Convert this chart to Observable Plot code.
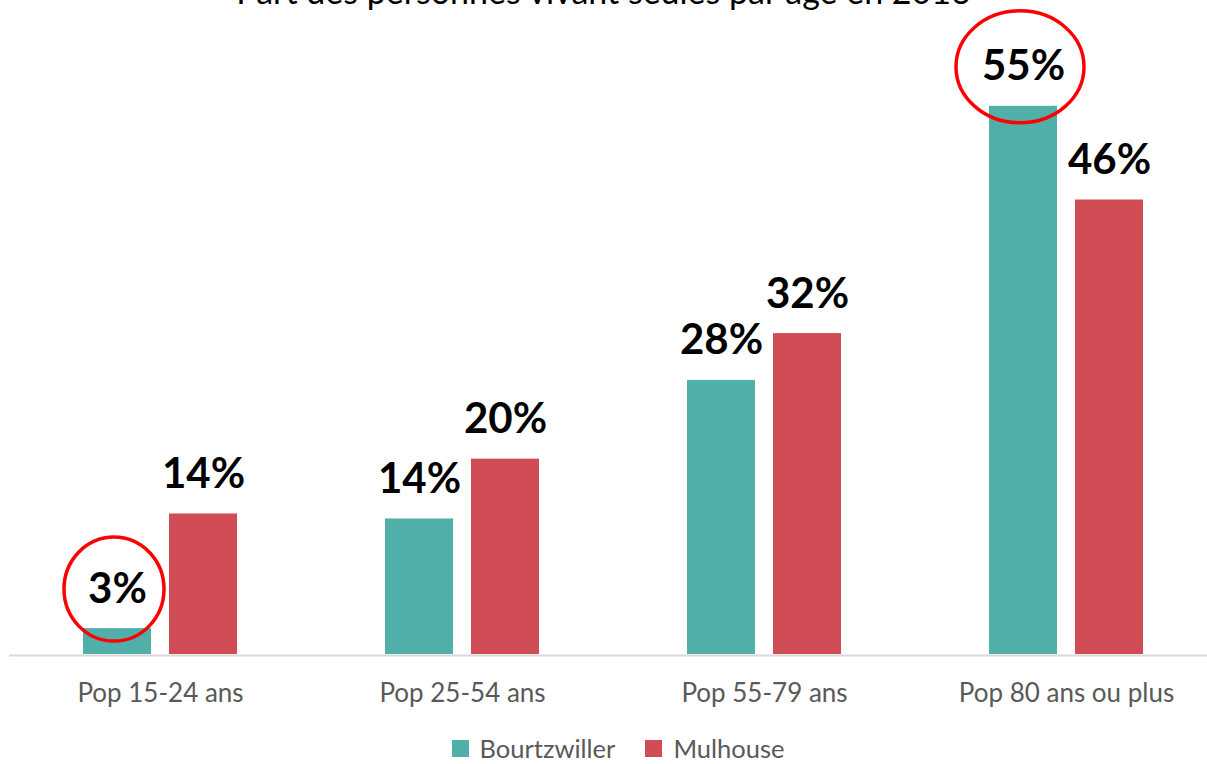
<!DOCTYPE html>
<html>
<head>
<meta charset="utf-8">
<script src="https://cdn.jsdelivr.net/npm/d3@7"></script>
<script src="https://cdn.jsdelivr.net/npm/@observablehq/plot@0.6"></script>
<style>
  html, body { margin: 0; padding: 0; background: #fff; }
  body { width: 1207px; height: 764px; overflow: hidden; position: relative; font-family: Lato, "Noto Sans", sans-serif; }
  #title { position: absolute; left: 0; width: 1207px; top: -29px; text-align: center; font-size: 34px; line-height: 40px; color: #000; white-space: nowrap; }
  #chart { position: absolute; left: 0; top: 0; width: 1217px; }
  #chart svg { max-width: none !important; }
  #legend { position: absolute; left: 29px; width: 1178px; top: 736px; height: 24px; line-height: 24px; display: flex; justify-content: center; align-items: center; font-size: 25.5px; color: #595959; }
  #legend .item { display: flex; align-items: center; height: 24px; }
  #legend .sw { width: 17px; height: 17px; margin-right: 11px; }
</style>
</head>
<body>
<div id="title"></div>
<div id="chart"></div>
<div id="legend"></div>
<script>
const title = "Part des personnes vivant seules par âge en 2016";
const categories = ["Pop 15-24 ans", "Pop 25-54 ans", "Pop 55-79 ans", "Pop 80 ans ou plus"];
const series = ["Bourtzwiller", "Mulhouse"];
const bourtzwiller = [2.6, 13.6, 27.5, 55.0];
const mulhouse = [14.1, 19.6, 32.2, 45.6];
const highlighted = [["Pop 15-24 ans", "Bourtzwiller"], ["Pop 80 ans ou plus", "Bourtzwiller"]];
const colors = ["#51AFAA", "#D04D56"];

const bData = categories.map((c, i) => ({cat: c, series: series[0], value: bourtzwiller[i]}));
const mData = categories.map((c, i) => ({cat: c, series: series[1], value: mulhouse[i]}));
const fmt = d => Math.round(d.value) + "%";

document.getElementById("title").textContent = title;

const labelStyle = {fontSize: 42, fontWeight: 700, fill: "#000", lineAnchor: "bottom", textAnchor: "middle"};

const plot = Plot.plot({
  width: 1217,
  height: 730,
  marginLeft: 9,
  marginRight: 0,
  marginTop: 56,
  marginBottom: 76,
  style: {fontFamily: "Lato, 'Noto Sans', sans-serif", fontSize: "26px", color: "#595959", background: "transparent", maxWidth: "none"},
  x: {domain: categories, paddingInner: 0.49, paddingOuter: 0.245, label: null, tickSize: 0, tickPadding: 29},
  y: {domain: [0, 60], axis: null},
  color: {domain: series, range: colors},
  marks: [
    Plot.barY(bData, {x: "cat", y: "value", fill: "series", insetRight: 86}),
    Plot.barY(mData, {x: "cat", y: "value", fill: "series", insetLeft: 86}),
    Plot.ruleY([0], {stroke: "#d9d9d9", strokeWidth: 2, dy: 1}),
    Plot.text(bData, {x: "cat", y: "value", text: fmt, dx: -43, dy: -26, ...labelStyle}),
    Plot.text(mData, {x: "cat", y: "value", text: fmt, dx: 43, dy: -26, ...labelStyle})
  ]
});
document.getElementById("chart").appendChild(plot);

// red highlight ellipses around selected labels, positioned through the plot's scales
const xs = plot.scale("x"), ys = plot.scale("y");
const ellipseSize = [[50, 52], [64, 56]];
const svg = d3.select(plot);
highlighted.forEach(([cat, s], k) => {
  const arr = s === series[0] ? bourtzwiller : mulhouse;
  const v = arr[categories.indexOf(cat)];
  const bw = xs.bandwidth;
  const cx = xs.apply(cat) + (s === series[0] ? 34 : bw - 34) - 3;
  const cy = ys.apply(v) - 39;
  svg.append("ellipse")
    .attr("cx", cx).attr("cy", cy)
    .attr("rx", ellipseSize[k][0]).attr("ry", ellipseSize[k][1])
    .attr("fill", "none").attr("stroke", "#FF0000").attr("stroke-width", 3.5);
});

// legend from the color scale
const cs = plot.scale("color");
const legend = document.getElementById("legend");
cs.domain.forEach((name, i) => {
  const item = document.createElement("div");
  item.className = "item";
  if (i > 0) item.style.marginLeft = "30px";
  const sw = document.createElement("div");
  sw.className = "sw";
  sw.style.background = cs.apply(name);
  const lab = document.createElement("span");
  lab.textContent = name;
  item.appendChild(sw); item.appendChild(lab);
  legend.appendChild(item);
});
</script>
</body>
</html>
